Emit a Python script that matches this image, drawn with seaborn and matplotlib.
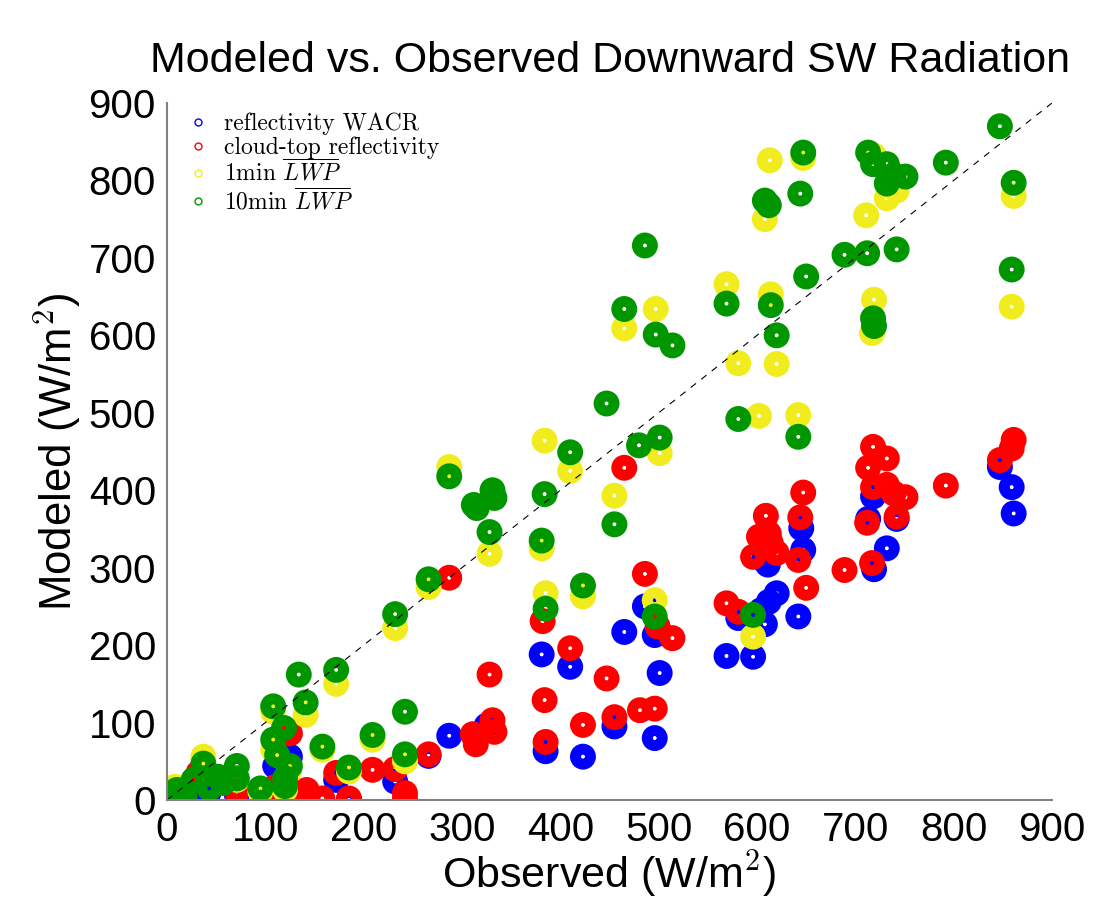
import matplotlib
matplotlib.use('Agg')
from matplotlib import pyplot as plt
from matplotlib.lines import Line2D
import pandas as pd
import seaborn as sns

# reflectivity WACR
wacr_obs = [35, 42, 71, 107, 110, 119, 125, 135, 142, 172, 185, 232, 266, 287, 325,
            381, 385, 410, 423, 455, 465, 486, 496, 496, 501, 569, 581, 596, 604, 608,
            612, 620, 642, 607, 611, 645, 647, 713, 718, 719, 732, 742, 847, 859, 861]
wacr_mod = [13, 9, 7, 7, 44, 2, 56, 2, 4, 26, 0, 24, 57, 83, 96,
            188, 63, 172, 56, 95, 217, 250, 213, 80, 164, 186, 235, 185, 245, 227,
            256, 267, 237, 310, 304, 351, 323, 363, 392, 298, 325, 363, 430, 404, 370]

# cloud-top reflectivity
ctop_obs = [32, 71, 110, 119, 125, 135, 142, 158, 172, 185, 209, 232, 242, 242, 266,
            287, 311, 314, 328, 331, 333, 382, 384, 385, 410, 423, 447, 455, 465, 481,
            486, 496, 499, 514, 569, 581, 596, 602, 609, 612, 614, 620, 642, 644, 647,
            650, 689, 712, 713, 717, 718, 718, 732, 732, 739, 742, 751, 792, 847, 859, 861]
ctop_mod = [35, 11, 17, 5, 86, 9, 13, 2, 35, 2, 39, 40, 9, 2, 59,
            287, 85, 72, 162, 103, 88, 231, 129, 75, 196, 97, 157, 107, 429, 116,
            292, 118, 224, 209, 254, 243, 314, 340, 367, 344, 332, 319, 310, 365, 397,
            274, 297, 358, 429, 306, 456, 404, 441, 407, 396, 366, 391, 406, 439, 454, 465]

# 1min LWP
lwp1_obs = [3, 8, 37, 71, 95, 108, 108, 120, 124, 141, 158, 172, 185, 209, 232,
            242, 266, 287, 328, 381, 384, 385, 410, 423, 455, 496, 501, 465, 497, 569,
            581, 596, 602, 608, 613, 614, 620, 642, 647, 711, 717, 719, 719, 732, 742,
            859, 861]
lwp1_mod = [4, 17, 56, 26, 11, 114, 65, 13, 37, 110, 65, 150, 37, 78, 222,
            50, 275, 430, 318, 325, 464, 267, 425, 263, 393, 258, 448, 609, 634, 666,
            564, 211, 496, 750, 826, 653, 563, 497, 829, 755, 603, 646, 832, 777, 787,
            637, 780]

# 10min LWP
lwp10_obs = [1, 10, 18, 27, 37, 43, 52, 57, 71, 71, 95, 108, 108, 112, 119,
             120, 120, 125, 134, 141, 158, 172, 185, 209, 232, 242, 242, 266, 287, 312,
             315, 328, 331, 333, 381, 384, 385, 410, 423, 447, 455, 465, 480, 486, 496,
             497, 501, 514, 569, 581, 596, 608, 612, 614, 620, 642, 644, 647, 650, 689,
             712, 713, 718, 718, 719, 732, 732, 739, 742, 751, 792, 847, 859, 861]
lwp10_mod = [2, 13, 4, 26, 47, 15, 30, 22, 44, 28, 15, 121, 78, 58, 93,
             28, 18, 44, 162, 126, 69, 168, 42, 84, 240, 114, 59, 285, 418, 381,
             377, 346, 400, 390, 335, 395, 247, 449, 277, 512, 356, 634, 458, 716, 237,
             601, 468, 587, 641, 492, 239, 774, 768, 639, 600, 469, 783, 836, 676, 704,
             706, 836, 821, 622, 612, 821, 796, 807, 711, 805, 823, 870, 685, 797]

series = ['reflectivity WACR', 'cloud-top reflectivity',
          r'1min $\overline{LWP}$', r'10min $\overline{LWP}$']
colors = ['#0000ff', '#ff0000', '#f0ec1e', '#009600']
obs_all = [wacr_obs, ctop_obs, lwp1_obs, lwp10_obs]
mod_all = [wacr_mod, ctop_mod, lwp1_mod, lwp10_mod]

sns.set_style('white')
plt.rcParams['font.family'] = ['Liberation Sans', 'DejaVu Sans']
plt.rcParams['mathtext.fontset'] = 'cm'
plt.rcParams['text.color'] = 'black'
plt.rcParams['axes.labelcolor'] = 'black'
plt.rcParams['xtick.color'] = 'black'
plt.rcParams['ytick.color'] = 'black'

fig = plt.figure(figsize=(10.93, 8.98), dpi=100)
ax = fig.add_axes([0.1528, 0.1091, 0.8097, 0.7762])

for name, col, xo, ym in zip(series, colors, obs_all, mod_all):
    df = pd.DataFrame({'obs': xo, 'mod': ym})
    sns.scatterplot(data=df, x='obs', y='mod', ax=ax, s=118, marker='o')
    pc = ax.collections[-1]
    pc.set_facecolor('none')
    pc.set_edgecolor(col)
    pc.set_linewidth(7.8)

ax.plot([0, 900], [0, 900], color='black', linestyle=(0, (6, 6)), linewidth=0.8)

ax.set_xlim(0, 900)
ax.set_ylim(0, 900)
ax.set_xticks(range(0, 901, 100))
ax.set_yticks(range(0, 901, 100))
ax.tick_params(direction='in', length=8, width=1, labelsize=29, pad=8)
for side in ['top', 'right']:
    ax.spines[side].set_visible(False)
for side in ['left', 'bottom']:
    ax.spines[side].set_color('#808080')
    ax.spines[side].set_linewidth(1.5)

ax.set_xlabel('Observed (W/m$^2$)', fontsize=31, labelpad=-1)
ax.set_ylabel('Modeled (W/m$^2$)', fontsize=31.5, labelpad=4)
ax.set_title('Modeled vs. Observed Downward SW Radiation', fontsize=31, pad=22)

handles = [Line2D([], [], linestyle='none', marker='o', markersize=5,
                  markerfacecolor='none', markeredgecolor=c, markeredgewidth=1)
           for c in colors]
leg = ax.legend(handles, series, loc='upper left', bbox_to_anchor=(-0.008, 1.02),
                frameon=False, prop={'family': 'cmr10', 'size': 17},
                handlelength=1.2, handletextpad=0.5, labelspacing=0.05,
                borderaxespad=0.6)

fig.savefig('out.png', dpi=100)
